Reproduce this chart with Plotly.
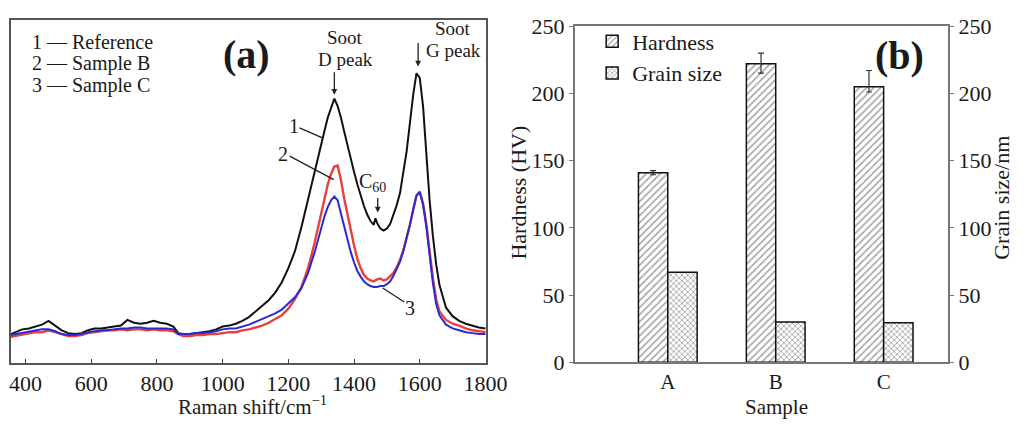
import plotly.graph_objects as go

# ---------------- Panel (a): Raman spectra ----------------
raman_shift = [355, 370, 390, 410, 430, 450, 470, 490, 510, 530, 550, 570, 590, 610, 630, 650, 670, 690,
               710, 730, 750, 770, 790, 810, 830, 850, 865, 880, 900, 920, 940, 960, 980, 1000, 1020, 1040,
               1060, 1080, 1100, 1120, 1140, 1160, 1180, 1200, 1220, 1240, 1260, 1280, 1300, 1310, 1320,
               1330, 1340, 1350, 1360, 1370, 1380, 1390, 1400, 1410, 1420, 1430, 1440, 1450, 1460, 1465,
               1470, 1480, 1490, 1500, 1510, 1520, 1530, 1540, 1550, 1560, 1570, 1580, 1590, 1600, 1610,
               1620, 1630, 1640, 1650, 1660, 1680, 1700, 1720, 1740, 1760, 1780, 1800]

reference = [31, 33, 36, 37, 39, 41, 45, 40, 35, 32, 31, 32, 35, 37, 37, 38, 39, 40,
             46, 43, 42, 43, 45, 43, 42, 39, 32, 31, 31, 32, 33, 34, 36, 39, 40, 42,
             45, 49, 55, 61, 67, 75, 86, 101, 119, 145, 175, 205, 233, 247, 261,
             272, 281, 273, 261, 246, 231, 217, 203, 190, 177, 167, 158, 151, 147, 154,
             149, 143, 141, 143, 148, 157, 168, 181, 201, 225, 255, 285, 308, 303, 273,
             223, 173, 135, 105, 83, 59, 50, 45, 42, 40, 38, 37]

sample_b = [28, 29, 30, 31, 33, 33, 35, 33, 31, 29, 29, 30, 32, 33, 34, 35, 35, 36,
            35, 36, 36, 35, 36, 35, 35, 34, 31, 29, 29, 30, 30, 31, 31, 32, 33, 33,
            35, 36, 38, 40, 43, 47, 51, 58, 68, 81, 101, 128, 159, 175, 190,
            201, 209, 210, 195, 175, 157, 141, 125, 111, 101, 94, 90, 88, 87, 88,
            89, 90, 88, 89, 92, 96, 102, 110, 120, 133, 147, 163, 178, 182, 170,
            148, 118, 90, 68, 55, 46, 42, 40, 37, 35, 34, 33]

sample_c = [30, 31, 32, 33, 35, 36, 36, 34, 31, 30, 30, 31, 33, 34, 35, 35, 36, 37,
            37, 38, 38, 37, 37, 37, 37, 36, 31, 31, 31, 32, 32, 33, 34, 36, 37, 37,
            39, 41, 44, 47, 50, 53, 57, 63, 70, 80, 96, 118, 145, 156, 166,
            173, 177, 173, 159, 145, 130, 118, 107, 98, 92, 87, 84, 82, 81, 81,
            81, 82, 82, 84, 87, 93, 100, 108, 119, 132, 147, 163, 178, 182, 168,
            145, 115, 85, 63, 51, 41, 37, 35, 33, 32, 31, 31]

raman_ticks = [400, 600, 800, 1000, 1200, 1400, 1600, 1800]

# ---------------- Panel (b): hardness / grain size ----------------
samples = ["A", "B", "C"]
hardness = [141, 222, 205]
hardness_err_plus = [1.5, 8, 12]
hardness_err_minus = [1.5, 7, 4]
grain_size = [67, 30, 29.5]
b_ticks = [0, 50, 100, 150, 200, 250]

W, H = 1034, 429
FONT = "Liberation Serif, Times New Roman, serif"
TXT = "#1a1a1a"


def px(x):
    return x / W


def py(y):
    return 1 - y / H


fig = go.Figure()

fig.add_trace(go.Scatter(x=raman_shift, y=reference, mode="lines",
                         line=dict(color="#111111", width=2), showlegend=False,
                         xaxis="x", yaxis="y"))
fig.add_trace(go.Scatter(x=raman_shift, y=sample_b, mode="lines",
                         line=dict(color="#e8403a", width=2.4), showlegend=False,
                         xaxis="x", yaxis="y"))
fig.add_trace(go.Scatter(x=raman_shift, y=sample_c, mode="lines",
                         line=dict(color="#2a2ad0", width=2), showlegend=False,
                         xaxis="x", yaxis="y"))

bar_w = 0.272
fig.add_trace(go.Bar(x=samples, y=hardness, name="Hardness", xaxis="x2", yaxis="y2",
                     width=bar_w, offset=-bar_w,
                     marker=dict(color="white", line=dict(color="#111111", width=1.5),
                                 pattern=dict(shape="/", fgcolor="#444444", bgcolor="white",
                                              size=5, solidity=0.3)),
                     error_y=dict(type="data", array=hardness_err_plus,
                                  arrayminus=hardness_err_minus, color="#333333",
                                  thickness=1.2, width=3)))
fig.add_trace(go.Bar(x=samples, y=grain_size, name="Grain size", xaxis="x2", yaxis="y3",
                     width=bar_w, offset=0,
                     marker=dict(color="white", line=dict(color="#111111", width=1.5),
                                 pattern=dict(shape="x", fgcolor="#333333", bgcolor="white",
                                              size=4, solidity=0.35))))

axis_font = dict(family=FONT, size=22, color=TXT)

fig.update_layout(
    width=W, height=H,
    margin=dict(l=0, r=0, t=0, b=0),
    paper_bgcolor="white", plot_bgcolor="white",
    font=dict(family=FONT, size=20, color=TXT),
    barmode="overlay",
    xaxis=dict(domain=[px(10), px(496)], range=[355, 1803], anchor="y",
               tickvals=raman_ticks, ticks="inside", ticklen=5, tickwidth=1.2,
               tickcolor="#444", showline=True, linecolor="#555", linewidth=1.5,
               mirror=True, showgrid=False, zeroline=False, tickfont=axis_font),
    yaxis=dict(domain=[py(373), py(8)], range=[0, 365], anchor="x",
               showticklabels=False, ticks="", showline=True, linecolor="#555",
               linewidth=1.5, mirror=True, showgrid=False, zeroline=False),
    xaxis2=dict(domain=[px(586), px(968)], type="category", range=[-0.864, 2.6],
                anchor="y2", ticks="", showline=True, linecolor="#777", linewidth=1.5,
                mirror=True, showgrid=False, zeroline=False,
                tickfont=dict(family=FONT, size=21, color=TXT)),
    yaxis2=dict(domain=[py(372), py(15)], range=[0, 250], anchor="x2",
                tickvals=b_ticks, ticks="outside", ticklen=4, tickcolor="#777",
                showline=True, linecolor="#777", linewidth=1.5, showgrid=False,
                zeroline=False, tickfont=axis_font),
    yaxis3=dict(range=[0, 250], anchor="x2", overlaying="y2", side="right",
                tickvals=b_ticks, ticks="outside", ticklen=4, tickcolor="#777",
                showline=True, linecolor="#777", linewidth=1.5, showgrid=False,
                zeroline=False, tickfont=axis_font),
    legend=dict(x=px(604), y=py(9), xanchor="left", yanchor="top",
                font=dict(family=FONT, size=22, color=TXT), bgcolor="rgba(0,0,0,0)",
                tracegroupgap=0, itemwidth=30),
)

ann = []


def text(x, y, s, size=20, bold=False, xanchor="center", angle=0):
    ann.append(dict(x=px(x), y=py(y), xref="paper", yref="paper", text=s, showarrow=False,
                    xanchor=xanchor, yanchor="middle", textangle=angle,
                    font=dict(family=FONT, size=size, color=TXT,
                              weight="bold" if bold else "normal")))


# Panel (a) labels
text(30, 32, "1 — Reference", 20, xanchor="left")
text(30, 55, "2 — Sample B", 20, xanchor="left")
text(30, 78, "3 — Sample C", 20, xanchor="left")
text(251, 45, "(a)", 40, bold=True)
text(351, 27, "Soot", 19)
text(352, 50, "D peak", 19)
text(462, 18, "Soot", 19)
text(462, 41, "G peak", 19)
text(380, 181, "C<sub>60</sub>", 20)
text(299, 121, "1", 20)
text(288, 151, "2", 20)
text(418, 314, "3", 20)
text(257, 418, "Raman shift/cm<sup>−1</sup>", 21)

# Panel (b) labels
text(918, 46, "(b)", 40, bold=True)
text(792, 419, "Sample", 21)
text(529, 192, "Hardness (HV)", 22, angle=-90)
text(1022, 197, "Grain size/nm", 22, angle=-90)

# Peak arrows (pointing at spectral features in data coordinates)
for xa, ya, length in [(1340, 285, 24), (1595, 315, 25), (1472, 160, 16)]:
    ann.append(dict(x=xa, y=ya, xref="x", yref="y", text="", showarrow=True,
                    ax=0, ay=-length, arrowhead=2, arrowsize=0.9, arrowwidth=1.3,
                    arrowcolor="#222"))

fig.update_layout(annotations=ann)

# Leader lines for curve labels
shapes = []
for (x0, y0, x1, y1) in [(305, 123, 329, 134), (295, 153, 340, 178), (390, 293, 412, 308)]:
    shapes.append(dict(type="line", xref="paper", yref="paper",
                       x0=px(x0), y0=py(y0), x1=px(x1), y1=py(y1),
                       line=dict(color="#222", width=1.3)))
fig.update_layout(shapes=shapes)

fig.write_html("out.html")
